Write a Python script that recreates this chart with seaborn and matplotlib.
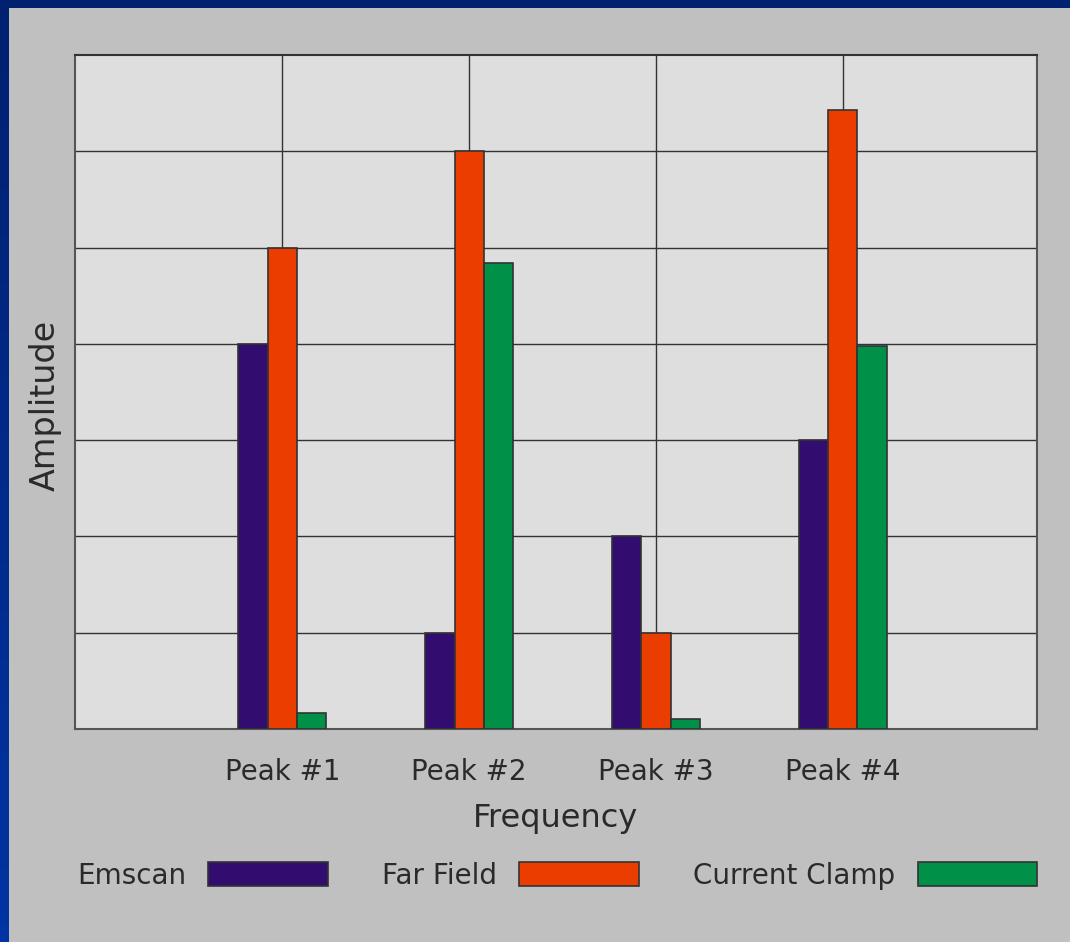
import matplotlib
matplotlib.use('Agg')
import matplotlib.pyplot as plt
import numpy as np
import pandas as pd
import seaborn as sns

peaks = ['Peak #1', 'Peak #2', 'Peak #3', 'Peak #4']
series = ['Emscan', 'Far Field', 'Current Clamp']
emscan = [4.0, 1.0, 2.0, 3.0]
far_field = [5.0, 6.0, 1.0, 6.43]
current_clamp = [0.17, 4.84, 0.1, 3.98]
colors = ['#330c70', '#eb3d00', '#009048']

df = pd.DataFrame({
    'peak': peaks * 3,
    'source': [s for s in series for _ in peaks],
    'amplitude': emscan + far_field + current_clamp,
})

sns.set_theme(style='white')
plt.rcParams['font.family'] = ['DejaVu Sans']
text_color = '#2a2a2a'

fig = plt.figure(figsize=(10.7, 9.42), dpi=100, facecolor='#c0c0c0')
ax = fig.add_axes([75 / 1070, 1 - 729 / 942, (1037 - 75) / 1070, (729 - 55) / 942])
ax.set_facecolor('#dedede')

sns.barplot(
    data=df, x='peak', y='amplitude', hue='source', order=peaks, hue_order=series,
    palette=colors, saturation=1, width=0.47, gap=0, edgecolor='#333333', linewidth=1.2,
    legend=True, ax=ax, zorder=3,
)

ax.set_xlim(-1.11, 4.04)
ax.set_ylim(0, 7)
ax.set_yticks(range(1, 7))
ax.set_yticklabels([])
ax.grid(True, color='#333333', linewidth=1.0, zorder=0)
ax.set_axisbelow(True)
ax.tick_params(axis='y', length=0)
ax.tick_params(axis='x', length=3, color='#333333', pad=18, labelsize=20, labelcolor=text_color)
for side, sp in ax.spines.items():
    sp.set_color('#555555')
    sp.set_linewidth(1.5)
ax.spines['top'].set_color('#333333')

ax.set_xlabel('Frequency', fontsize=23, color=text_color, labelpad=12)
ax.set_ylabel('Amplitude', fontsize=24, color=text_color)
ax.yaxis.set_label_coords(-0.014, 0.48)

handles, labels = ax.get_legend_handles_labels()
ax.get_legend().remove()
fig.legend(
    handles, labels, ncol=3, loc='lower left', mode='expand',
    bbox_to_anchor=(77 / 1070, 1 - 890 / 942, (1037 - 77) / 1070, 30 / 942),
    markerfirst=False, frameon=False, fontsize=20, labelcolor=text_color,
    handlelength=4.3, handleheight=0.95, handletextpad=0.8, borderpad=0, borderaxespad=0,
)

# blue frame on the left and top
grad = np.linspace(0, 1, 256).reshape(-1, 1)
left = fig.add_axes([0, 0, 9 / 1070, 1])
left.imshow(grad, aspect='auto', cmap=matplotlib.colors.LinearSegmentedColormap.from_list(
    'frame', ['#002070', '#0034a4']))
left.axis('off')
top = fig.add_axes([0, 1 - 8 / 942, 1, 8 / 942])
top.set_facecolor('#002070')
top.set_xticks([])
top.set_yticks([])
for sp in top.spines.values():
    sp.set_visible(False)

fig.savefig('out.png', dpi=100, facecolor=fig.get_facecolor())
